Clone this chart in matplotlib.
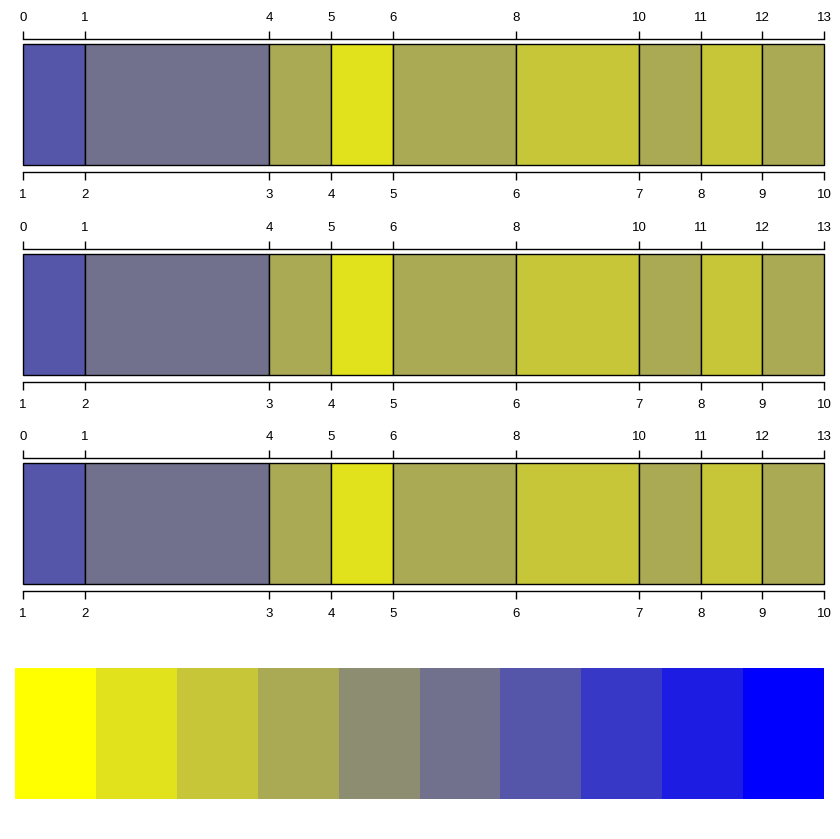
import matplotlib
matplotlib.use("Agg")
import matplotlib.pyplot as plt
from matplotlib.patches import Rectangle

plt.rcParams['font.family'] = ['Liberation Sans', 'DejaVu Sans']

# palette: yellow -> blue, 10 steps
palette = ["#FFFF00", "#E2E21C", "#C6C638", "#AAAA55", "#8D8D71",
           "#71718D", "#5555AA", "#3838C6", "#1C1CE2", "#0000FF"]

# segment boundaries (top axis labels) and bottom labels
breaks = [0, 1, 4, 5, 6, 8, 10, 11, 12, 13]
bottom_labels = ["1", "2", "3", "4", "5", "6", "7", "8", "9", "10"]
# palette index for each segment
seg_color_idx = [6, 5, 3, 1, 3, 2, 3, 2, 3]

W, H = 840, 839
fig = plt.figure(figsize=(W / 100, H / 100), dpi=100)

def px_axes(x0, y0, x1, y1):
    return fig.add_axes([x0 / W, 1 - y1 / H, (x1 - x0) / W, (y1 - y0) / H])

panel_tops = [44, 254, 463]
ph = 121
for top in panel_tops:
    ax = px_axes(23, top, 824, top + ph)
    ax.set_xlim(breaks[0], breaks[-1])
    ax.set_ylim(0, 1)
    for i in range(len(breaks) - 1):
        ax.add_patch(Rectangle((breaks[i], 0), breaks[i + 1] - breaks[i], 1,
                               facecolor=palette[seg_color_idx[i]],
                               edgecolor="black", linewidth=1.0, clip_on=False))
    for s in ["left", "right", "top"]:
        ax.spines[s].set_visible(False)
    ax.spines["bottom"].set_position(("outward", 5))
    ax.spines["bottom"].set_linewidth(1.0)
    ax.set_yticks([])
    ax.set_xticks(breaks)
    ax.set_xticklabels(bottom_labels)
    ax.tick_params(axis="x", bottom=True, top=False,
                   labelbottom=True, labeltop=False, length=6, width=1.0,
                   labelsize=9.5, pad=6.5, direction="out")
    sec = ax.secondary_xaxis(1 + 4.5 / ph)
    sec.set_xticks(breaks)
    sec.set_xticklabels([str(b) for b in breaks])
    sec.tick_params(length=6, width=1.0, labelsize=9.5, pad=5, direction="out")
    sec.spines["top"].set_linewidth(1.0)
    ax.patch.set_visible(False)

# legend swatches
lax = px_axes(15, 668, 824, 799)
lax.set_xlim(0, len(palette))
lax.set_ylim(0, 1)
for i, c in enumerate(palette):
    lax.add_patch(Rectangle((i, 0), 1, 1, facecolor=c, edgecolor="none"))
lax.axis("off")

fig.savefig("out.png", dpi=100)
